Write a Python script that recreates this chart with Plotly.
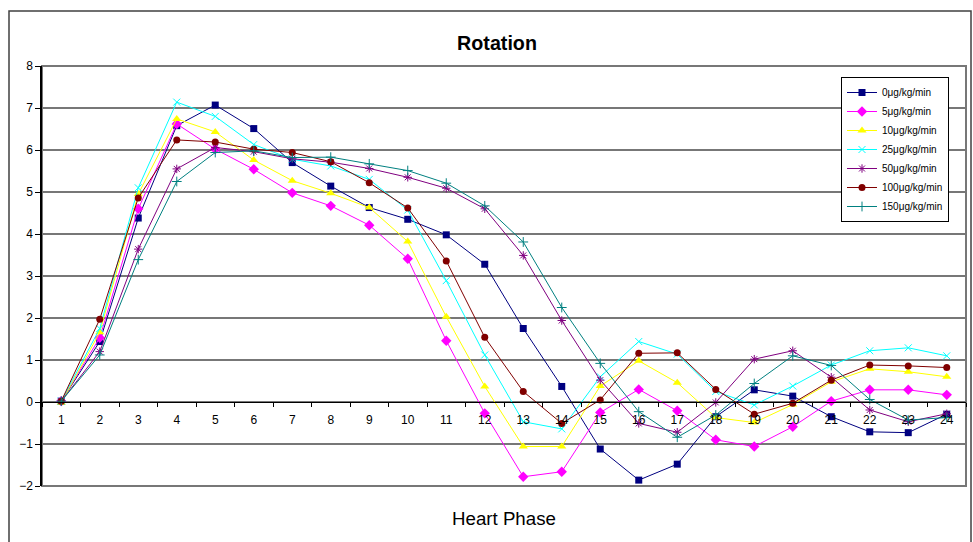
import plotly.graph_objects as go

# Heart phase categories
phases = [str(i) for i in range(1, 25)]

# Rotation per dose (deg) over the 24 heart phases
rot_0 = [0.02, 1.44, 4.38, 6.58, 7.07, 6.51, 5.70, 5.14, 4.63, 4.35, 3.98, 3.28,
         1.75, 0.37, -1.12, -1.86, -1.48, -0.35, 0.29, 0.14, -0.35, -0.71, -0.73, -0.29]
rot_5 = [0.02, 1.53, 4.60, 6.62, 6.02, 5.54, 4.98, 4.67, 4.21, 3.41, 1.46, -0.27,
         -1.78, -1.66, -0.25, 0.30, -0.21, -0.90, -1.06, -0.59, 0.02, 0.29, 0.29, 0.17]
rot_10 = [-0.02, 1.66, 4.95, 6.74, 6.43, 5.76, 5.27, 4.97, 4.63, 3.82, 2.03, 0.37,
          -1.06, -1.06, 0.38, 0.98, 0.46, -0.37, -0.49, -0.06, 0.48, 0.79, 0.72, 0.60]
rot_25 = [0.02, 1.75, 5.10, 7.14, 6.80, 6.13, 5.78, 5.62, 5.30, 4.57, 2.89, 1.12,
          -0.47, -0.64, 0.60, 1.44, 1.14, 0.25, -0.07, 0.38, 0.88, 1.22, 1.29, 1.10]
rot_50 = [0.02, 1.20, 3.64, 5.55, 6.06, 5.96, 5.79, 5.71, 5.56, 5.35, 5.09, 4.60,
          3.49, 1.94, 0.52, -0.51, -0.72, -0.01, 1.02, 1.22, 0.59, -0.19, -0.47, -0.28]
rot_100 = [0.02, 1.97, 4.86, 6.24, 6.19, 6.02, 5.94, 5.72, 5.22, 4.62, 3.36, 1.54,
           0.25, -0.51, 0.05, 1.16, 1.17, 0.30, -0.29, -0.03, 0.52, 0.88, 0.86, 0.82]
rot_150 = [0.02, 1.12, 3.39, 5.25, 5.94, 5.98, 5.82, 5.83, 5.67, 5.51, 5.21, 4.67,
           3.81, 2.25, 0.92, -0.23, -0.84, -0.31, 0.44, 1.10, 0.87, 0.06, -0.43, -0.37]

series_names = ["0μg/kg/min", "5μg/kg/min", "10μg/kg/min", "25μg/kg/min",
                "50μg/kg/min", "100μg/kg/min", "150μg/kg/min"]
series_values = [rot_0, rot_5, rot_10, rot_25, rot_50, rot_100, rot_150]

styles = [
    dict(color="#000080", symbol="square", size=7),
    dict(color="#FF00FF", symbol="diamond", size=8),
    dict(color="#FFFF00", symbol="triangle-up", size=8),
    dict(color="#00FFFF", symbol="x-thin-open", size=7),
    dict(color="#800080", symbol="asterisk-open", size=7),
    dict(color="#800000", symbol="circle", size=7),
    dict(color="#008080", symbol="cross-thin-open", size=7),
]

FONT = "Arial, 'Liberation Sans', sans-serif"

fig = go.Figure()
for name, vals, st in zip(series_names, series_values, styles):
    open_marker = st["symbol"].endswith("open")
    fig.add_trace(go.Scatter(
        x=phases, y=vals, name=name, mode="lines+markers",
        line=dict(color=st["color"], width=1),
        marker=dict(symbol=st["symbol"], size=st["size"], color=st["color"],
                    line=dict(color=st["color"], width=1 if open_marker else 0)),
    ))

W, H = 973, 542
L, R, T, B = 42, 7, 66, 56

fig.update_layout(
    width=W, height=H, autosize=False,
    margin=dict(l=L, r=R, t=T, b=B),
    paper_bgcolor="white", plot_bgcolor="white",
    font=dict(family=FONT, color="black", size=12),
    title=dict(text="<b>Rotation</b>", x=497 / W, xref="container", xanchor="center",
               y=1 - 43 / H, yref="container", yanchor="middle",
               font=dict(size=19.7, family=FONT, color="black")),
    xaxis=dict(type="category", anchor="free", position=0.2,
               range=[-0.5, len(phases) - 0.5], autorange=False,
               showline=True, linecolor="black", linewidth=1,
               ticks="outside", tickson="boundaries", ticklen=4, tickcolor="black",
               ticklabelstandoff=7,
               showgrid=False, zeroline=False, tickfont=dict(size=12)),
    yaxis=dict(range=[-2, 8], dtick=1, tick0=0,
               showline=True, linecolor="black", linewidth=1.5,
               ticks="outside", ticklen=5, tickcolor="black",
               showgrid=True, gridcolor="#777777", gridwidth=2,
               zeroline=False, tickfont=dict(size=12)),
    legend=dict(x=(841 - L) / (W - L - R), y=(H - B - 77) / (H - T - B),
                xanchor="left", yanchor="top",
                bgcolor="white", bordercolor="black", borderwidth=1,
                font=dict(size=10, family=FONT), tracegroupgap=0),
    showlegend=True,
)

pw, ph = W - L - R, H - T - B
# plot-area frame
fig.add_shape(type="rect", xref="paper", yref="paper", x0=0, x1=1, y0=0, y1=1,
              line=dict(color="#777777", width=2), layer="below")
# outer chart frame
fig.add_shape(type="rect", xref="paper", yref="paper",
              x0=(9 - L) / pw, x1=(971 - L) / pw,
              y0=(H - B - 560) / ph, y1=(H - B - 11) / ph,
              line=dict(color="#404040", width=1.5), layer="below")

fig.add_annotation(text="Heart Phase", xref="paper", yref="paper",
                   x=(504 - L) / pw, y=(H - B - 518) / ph,
                   xanchor="center", yanchor="middle", showarrow=False,
                   font=dict(size=18.7, family=FONT, color="black"))

fig.write_html("out.html")
